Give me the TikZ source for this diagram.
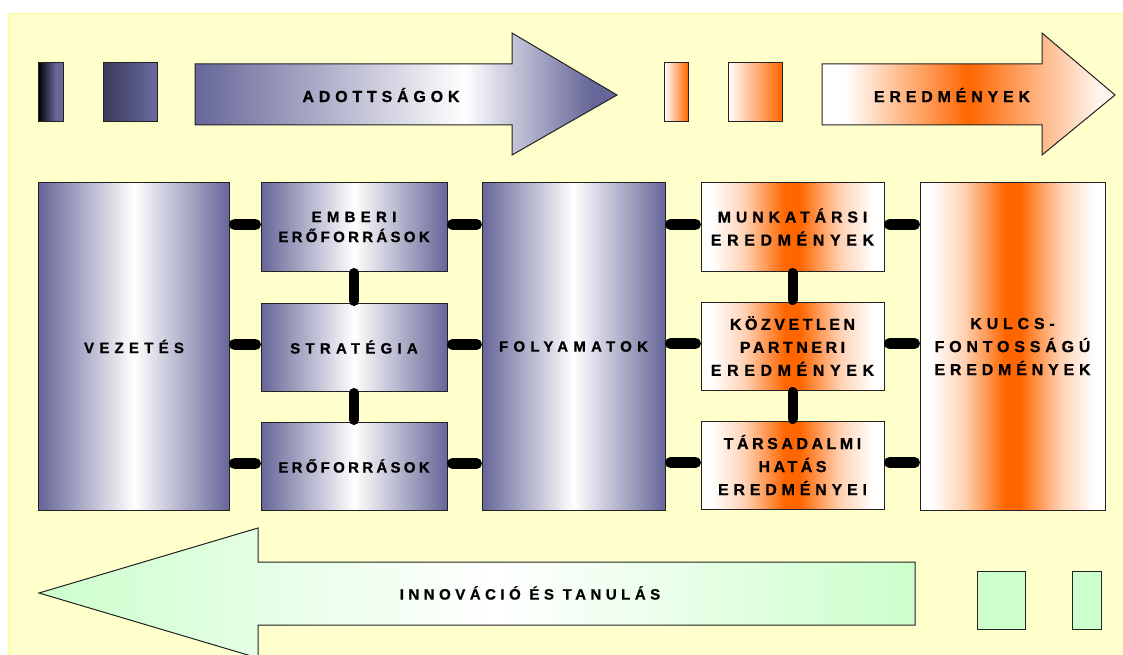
\documentclass[tikz,border=0pt]{standalone}
\usepackage{fontspec}
\setmainfont{Liberation Sans}
\newfontfamily\lsA{Liberation Sans}[LetterSpace=22, BoldFeatures={FakeBold=0.8}]
\newfontfamily\lsB{Liberation Sans}[LetterSpace=30, BoldFeatures={FakeBold=0.8}]
\newfontfamily\lsC{Liberation Sans}[LetterSpace=35, BoldFeatures={FakeBold=0.8}]
\newcommand\tA{\lsA\bfseries}
\newcommand\tB{\lsB\bfseries}
\newcommand\tC{\lsC\bfseries}
\usetikzlibrary{calc}
\definecolor{slate}{HTML}{666699}
\definecolor{slatedark}{HTML}{3A3A5C}
\definecolor{orng}{HTML}{FF6600}
\definecolor{mint}{HTML}{CCFFCC}
\definecolor{bgyellow}{HTML}{FFFFCC}
\definecolor{bgline}{HTML}{FFFF99}
\definecolor{edge}{HTML}{222222}
\colorlet{pinktip}{orng!7!white}
\colorlet{pinkmid}{orng!30!white}
\pgfdeclarehorizontalshading{slatebox}{100bp}{color(0bp)=(slate); color(25bp)=(slate); color(50bp)=(white); color(75bp)=(slate); color(100bp)=(slate)}
\pgfdeclarehorizontalshading{orangebox}{100bp}{color(0bp)=(white); color(25bp)=(white); color(28bp)=(white); color(37bp)=(pinkmid); color(48bp)=(orng); color(52bp)=(orng); color(63bp)=(pinkmid); color(72bp)=(white); color(75bp)=(white); color(100bp)=(white)}
\pgfdeclarehorizontalshading{adottshade}{100bp}{color(0bp)=(slate); color(25bp)=(slate); color(57bp)=(white); color(72bp)=(slate); color(100bp)=(slate)}
\pgfdeclarehorizontalshading{eredshade}{100bp}{color(0bp)=(white); color(25bp)=(white); color(29bp)=(white); color(50bp)=(orng); color(72bp)=(pinktip); color(100bp)=(pinktip)}
\pgfdeclarehorizontalshading{innovshade}{100bp}{color(0bp)=(mint); color(25bp)=(mint); color(51bp)=(white); color(75bp)=(mint); color(100bp)=(mint)}
\pgfdeclarehorizontalshading{sqone}{100bp}{color(0bp)=(black); color(25bp)=(black); color(60bp)=(slate); color(100bp)=(slate)}
\pgfdeclarehorizontalshading{sqtwo}{100bp}{color(0bp)=(slatedark); color(25bp)=(slatedark); color(70bp)=(slate); color(100bp)=(slate)}
\pgfdeclarehorizontalshading{sqorange}{100bp}{color(0bp)=(white); color(25bp)=(white); color(75bp)=(orng); color(100bp)=(orng)}
\begin{document}
\begin{tikzpicture}[x=1bp,y=-1bp,
  shape line/.style={draw=edge, line width=1bp},
  box/.style={shape line, inner sep=0pt, outer sep=0pt, align=center, text=black},
  slate box/.style={box, shading=slatebox},
  orange box/.style={box, shading=orangebox},
  smalltxt/.style={font=\bfseries\fontsize{15bp}{20bp}\selectfont},
  bigtxt/.style={font=\bfseries\fontsize{16bp}{23bp}\selectfont},
  label/.style={inner sep=0pt, text=black, align=center},
  hconn/.style={line width=11bp, line cap=round, shorten >=5.5bp, shorten <=5.5bp, black},
  vconn/.style={line width=10bp, line cap=round, shorten >=2bp, shorten <=2bp, black}]
\useasboundingbox (0,0) rectangle (1123,655);
\clip (0,0) rectangle (1123,655);
\fill[white] (0,0) rectangle (1123,655);
\draw[fill=bgyellow, draw=bgline, line width=1.5bp] (8.75,13.75) rectangle (1135,670);

% top row
\draw[shape line, shading=sqone] (38,63) rectangle (63,122);
\draw[shape line, shading=sqtwo] (103,63) rectangle (157,122);
\draw[shape line, shading=adottshade] (195,64) -- (512,64) -- (512,33) -- (617,95) -- (512,155) -- (512,125) -- (195,125) -- cycle;
\node[label, bigtxt] (adott) at (381,95) {\tB ADOTTSÁGOK};
\draw[shape line, shading=sqorange] (664,63) rectangle (688,122);
\draw[shape line, shading=sqorange] (728,63) rectangle (782,122);
\draw[shape line, shading=eredshade] (822,64) -- (1042,64) -- (1042,33) -- (1115,95) -- (1042,155) -- (1042,125) -- (822,125) -- cycle;
\node[label, bigtxt] (ered) at (952,95) {\tB EREDMÉNYEK};

% boxes
\node[slate box, smalltxt, minimum width=190bp, minimum height=327bp] (vez) at (134,346.5) {\tC VEZETÉS};
\node[slate box, smalltxt, minimum width=186bp, minimum height=88bp] (emb) at (354,227) {\tC EMBERI\\\tA ERŐFORRÁSOK};
\node[slate box, smalltxt, minimum width=186bp, minimum height=88bp] (str) at (354,347) {\tC STRATÉGIA};
\node[slate box, smalltxt, minimum width=186bp, minimum height=88bp] (ero) at (354,466) {\tA ERŐFORRÁSOK};
\node[slate box, smalltxt, minimum width=183bp, minimum height=327bp] (foly) at (573.5,346.5) {\tC FOLYAMATOK};
\node[orange box, bigtxt, minimum width=183bp, minimum height=88bp] (munk) at (792.5,227) {\tB MUNKATÁRSI\\\tC EREDMÉNYEK};
\node[orange box, bigtxt, minimum width=183bp, minimum height=88bp] (kozv) at (792.5,346) {\tA KÖZVETLEN\\\tA PARTNERI\\\tC EREDMÉNYEK};
\node[orange box, bigtxt, minimum width=183bp, minimum height=88bp] (tars) at (792.5,465) {\tA TÁRSADALMI\\\tA HATÁS\\\tB EREDMÉNYEI};
\node[orange box, bigtxt, minimum width=185bp, minimum height=327bp] (kulcs) at (1012.5,346.5) {\tB KULCS-\\\tB FONTOSSÁGÚ\\\tB EREDMÉNYEK};

% connectors
\foreach \r in {emb,str,ero} {
  \draw[hconn] ($(vez.east |- \r.west)+(0,-2.5)$) -- ($(\r.west)+(0,-2.5)$);
  \draw[hconn] ($(\r.east)+(0,-2.5)$) -- ($(foly.west |- \r.east)+(0,-2.5)$);
}
\foreach \r in {munk,kozv,tars} {
  \draw[hconn] ($(foly.east |- \r.west)+(0,-2.5)$) -- ($(\r.west)+(0,-2.5)$);
  \draw[hconn] ($(\r.east)+(0,-2.5)$) -- ($(kulcs.west |- \r.east)+(0,-2.5)$);
}
\draw[vconn] (emb.south) -- (str.north);
\draw[vconn] (str.south) -- (ero.north);
\draw[vconn] (munk.south) -- (kozv.north);
\draw[vconn] (kozv.south) -- (tars.north);

% bottom row
\draw[shape line, shading=innovshade] (915,562) -- (258,562) -- (258,528) -- (39,593) -- (258,658) -- (258,625) -- (915,625) -- cycle;
\node[label, smalltxt] (innov) at (530,593) {\tB INNOVÁCIÓ ÉS TANULÁS};
\draw[shape line, fill=mint] (977,571) rectangle (1025,629);
\draw[shape line, fill=mint] (1072,571) rectangle (1101,629);
\end{tikzpicture}
\end{document}
